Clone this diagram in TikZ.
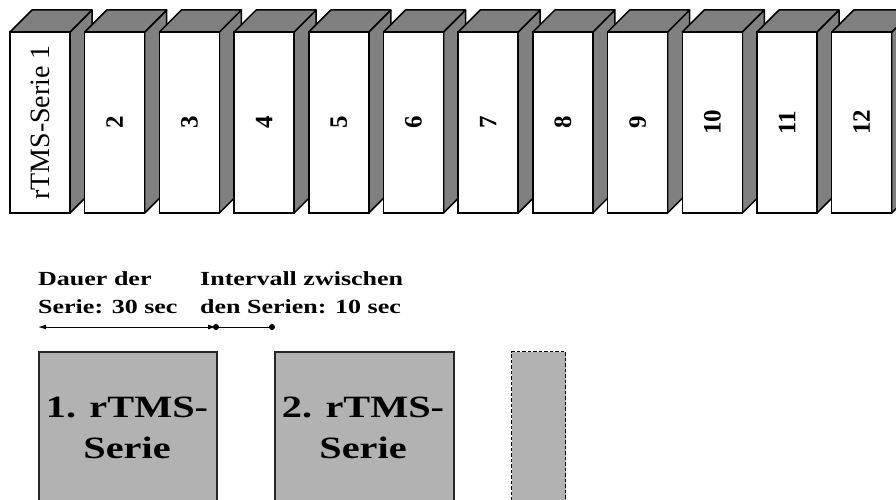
\documentclass[tikz,border=0pt]{standalone}
\usepackage{fontspec}
\setmainfont{Liberation Serif}
\usetikzlibrary{arrows.meta}
\definecolor{sidegray}{gray}{0.5}
\definecolor{boxgray}{gray}{0.7}
\newcommand{\stretchtxt}[1]{\scalebox{1.3}[1]{#1}}
\begin{document}
\begin{tikzpicture}[
        x=1pt, y=-1pt,
        frontbox/.style={draw, fill=white, line width=1.5pt, minimum width=181pt, minimum height=60pt, inner sep=0pt},
        shadeface/.style={fill=sidegray, draw=black, line width=1.5pt, line join=round},
        serlbl/.style={font=\fontsize{28}{34}\selectfont},
        numlbl/.style={font=\fontsize{25}{30}\selectfont\bfseries},
        serbox/.style={draw=black!85, fill=boxgray, line width=1.5pt, anchor=north west, inner sep=0pt},
        gapbox/.style={serbox, draw=black, line width=1.2pt, dash pattern=on 3.5pt off 2pt},
        infolbl/.style={font=\fontsize{20}{28}\selectfont\bfseries, anchor=base west, inner sep=0pt},
        bigtxt/.style={font=\fontsize{31}{41}\selectfont\bfseries, anchor=base, inner sep=0pt},
        dimline/.style={line width=1pt}
      ]
      \clip (0,0) rectangle (896,500);
      \def\dep{22}
      \foreach \lbl/\lstyle [count=\i from 0] in {%
        rTMS-Serie 1/serlbl, 2/numlbl, 3/numlbl, 4/numlbl, 5/numlbl, 6/numlbl,
        7/numlbl, 8/numlbl, 9/numlbl, 10/numlbl, 11/numlbl, 12/numlbl%
      }{
        \pgfmathsetmacro{\xl}{10+74.7*\i}
        \filldraw[shadeface] (\xl+60,32) -- ++(\dep,-\dep) -- ++(0,181) -- ++(-\dep,\dep) -- cycle;
        \filldraw[shadeface] (\xl,32) -- ++(\dep,-\dep) -- ++(60,0) -- ++(-\dep,\dep) -- cycle;
        \node[frontbox, rotate=90] (box\i) at (\xl+30,122.5) {};
        \node[\lstyle, rotate=90] (lbl\i) at (box\i.center) {\lbl};
      }
      % Dauer und Intervall
      \node[infolbl] (dauer1) at (38,285) {\stretchtxt{Dauer der}};
      \node[infolbl] (dauer2) at (38,313) {\stretchtxt{Serie: 30 sec}};
      \node[infolbl] (interv1) at (200,285) {\stretchtxt{Intervall zwischen}};
      \node[infolbl] (interv2) at (200,313) {\stretchtxt{den Serien: 10 sec}};
      \coordinate (dl) at (38,327);
      \coordinate (dm) at (216,327);
      \coordinate (dr) at (272,327);
      \draw[dimline, {Latex[length=8pt,width=5pt]}-{Latex[length=8pt,width=5pt]}] (dl) -- (dm);
      \draw[dimline] (dm) -- (dr);
      \fill (dm) circle (3);
      \fill (dr) circle (3);
      % Serien
      \node[serbox, minimum width=178pt, minimum height=170pt] (ser1) at (38,351) {};
      \node[serbox, minimum width=179pt, minimum height=170pt] (ser2) at (274,351) {};
      \node[gapbox, minimum width=54pt, minimum height=170pt] (ser3) at (511,351) {};
      \node[bigtxt] (ser1a) at (127,417) {\stretchtxt{1. rTMS-}};
      \node[bigtxt] (ser1b) at (127,458) {\stretchtxt{Serie}};
      \node[bigtxt] (ser2a) at (363,417) {\stretchtxt{2. rTMS-}};
      \node[bigtxt] (ser2b) at (363,458) {\stretchtxt{Serie}};
    \end{tikzpicture}
\end{document}
